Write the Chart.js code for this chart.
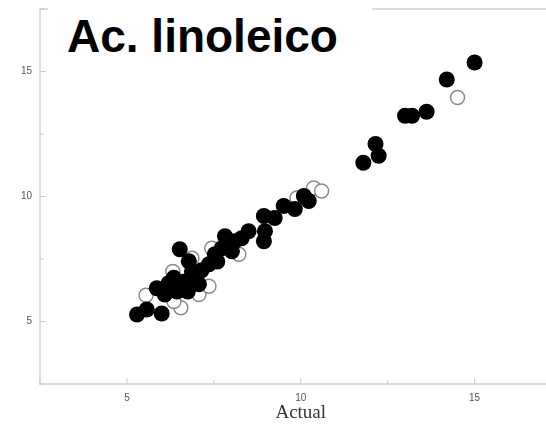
<!DOCTYPE html>
<html>
<head>
<meta charset="utf-8">
<script src="https://cdn.jsdelivr.net/npm/chart.js@4/dist/chart.umd.min.js"></script>
<style>
  body { margin: 0; overflow: hidden; background: #fff; }
  #wrap { position: relative; width: 570px; height: 427px; }
  #title {
    position: absolute; left: 48px; top: 0; width: 324px; height: 62px;
    background: #fff; font-family: 'Liberation Sans', Arial, sans-serif;
    font-weight: bold; font-size: 46px; line-height: 1; color: #000;
    padding: 13px 0 0 19px; box-sizing: border-box;
  }
</style>
</head>
<body>
<div id="wrap">
  <canvas id="chart" width="570" height="427"></canvas>
  <div id="title">Ac. linoleico</div>
</div>
<script>
const filledX = [5.29, 5.57, 6.0, 5.86, 6.2, 6.09, 6.44, 6.52, 6.78, 6.87, 7.07, 6.67, 6.95, 7.36, 7.53, 7.73, 7.82, 8.1, 8.02, 8.5, 8.3, 8.94, 8.94, 8.97, 9.25, 9.51, 9.83, 10.23, 10.09, 11.8, 12.15, 12.24, 13.0, 13.2, 13.62, 14.2, 15.0, 6.35, 7.15, 6.75, 7.6];
const filledY = [5.28, 5.48, 5.32, 6.33, 6.53, 6.08, 6.2, 7.89, 7.41, 7.0, 6.49, 6.6, 6.89, 7.29, 7.69, 7.93, 8.41, 8.21, 7.81, 8.61, 8.33, 9.22, 8.21, 8.61, 9.14, 9.62, 9.5, 9.82, 10.02, 11.35, 12.1, 11.63, 13.23, 13.23, 13.39, 14.68, 15.36, 6.75, 7.05, 6.2, 7.4];
const openX = [5.55, 6.32, 6.55, 6.35, 7.07, 7.36, 6.87, 7.44, 8.22, 9.89, 10.37, 10.6, 14.51];
const openY = [6.05, 7.0, 5.55, 5.8, 6.08, 6.41, 7.53, 7.93, 7.69, 9.94, 10.34, 10.22, 13.96];
const axisMin = 2.5;
const axisMax = 17.5;
const labelTicks = [5, 10, 15];

const toPoints = (xs, ys) => xs.map((x, i) => ({ x: x, y: ys[i] }));

// inward ticks plus the top frame line
const frame = {
    id: 'frame',
    afterDraw(chart) {
        const ctx = chart.ctx;
        const area = chart.chartArea;
        ctx.save();
        ctx.strokeStyle = '#dcdcdc';
        ctx.lineWidth = 2;
        ctx.beginPath();
        ctx.moveTo(area.left, area.top);
        ctx.lineTo(area.right, area.top);
        ctx.stroke();
        ctx.lineWidth = 1;
        ctx.strokeStyle = '#c8c8c8';
        chart.scales.x.ticks.forEach(t => {
            const px = chart.scales.x.getPixelForValue(t.value);
            const len = labelTicks.includes(t.value) ? 6 : 4;
            ctx.beginPath();
            ctx.moveTo(px, area.bottom);
            ctx.lineTo(px, area.bottom - len);
            ctx.stroke();
        });
        chart.scales.y.ticks.forEach(t => {
            const py = chart.scales.y.getPixelForValue(t.value);
            const len = labelTicks.includes(t.value) ? 6 : 4;
            ctx.beginPath();
            ctx.moveTo(area.left, py);
            ctx.lineTo(area.left + len, py);
            ctx.stroke();
        });
        ctx.restore();
    }
};

const tickFont = { family: 'Liberation Sans', size: 10 };
const tickCb = v => labelTicks.includes(v) ? String(v) : '';

new Chart(document.getElementById('chart'), {
    type: 'scatter',
    data: {
        datasets: [
            {
                data: toPoints(filledX, filledY),
                backgroundColor: '#000',
                borderColor: '#000',
                borderWidth: 0,
                pointRadius: 8
            },
            {
                data: toPoints(openX, openY),
                backgroundColor: '#fff',
                borderColor: '#8a8a8a',
                borderWidth: 1.5,
                pointRadius: 7
            }
        ]
    },
    options: {
        responsive: false,
        animation: false,
        layout: { padding: { top: 9, right: 0, left: 0, bottom: 0 } },
        plugins: { legend: { display: false }, tooltip: { enabled: false } },
        scales: {
            x: {
                min: axisMin, max: axisMax,
                afterFit: s => { s.height = 43; s.paddingLeft = 0; s.paddingRight = 0; },
                grid: { drawOnChartArea: false, drawTicks: false },
                border: { color: '#dcdcdc', width: 2 },
                ticks: { stepSize: 2.5, padding: 8, color: '#555', font: tickFont, callback: tickCb, maxRotation: 0 },
                title: { display: true, text: 'Actual', color: '#333', font: { family: 'Liberation Serif', size: 19 }, padding: { top: 0, bottom: 3 } }
            },
            y: {
                min: axisMin, max: axisMax,
                afterFit: s => { s.width = 40; s.paddingTop = 0; s.paddingBottom = 0; },
                grid: { drawOnChartArea: false, drawTicks: false },
                border: { color: '#dcdcdc', width: 2 },
                ticks: { stepSize: 2.5, padding: 8, color: '#555', font: tickFont, callback: tickCb }
            }
        }
    },
    plugins: [frame]
});
</script>
</body>
</html>
